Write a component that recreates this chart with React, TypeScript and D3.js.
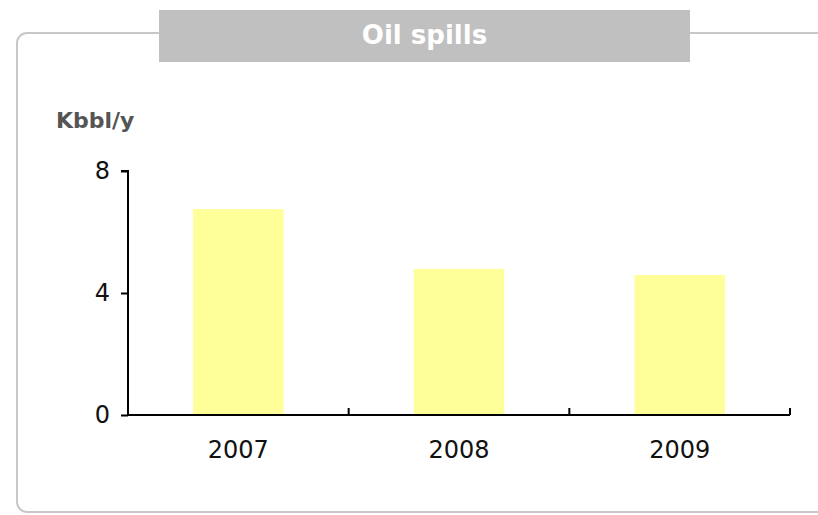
import React, { useRef, useEffect } from 'react'
import * as d3 from 'd3'

// chart data
const years = ['2007', '2008', '2009']
const spills = [6.75, 4.79, 4.59]
const yTicks = [0, 4, 8]

const full_width = 818
const full_height = 515
const margin = { top: 171, right: 28, bottom: 100, left: 128 }
const width = full_width - margin.left - margin.right
const height = full_height - margin.top - margin.bottom
const font = 'DejaVu Sans, Verdana, sans-serif'

const App = () => {
  const chartEl = useRef<SVGGElement>(null)
  const xAxisEl = useRef<SVGGElement>(null)
  const yAxisEl = useRef<SVGGElement>(null)

  useEffect(() => {
    const x = d3.scaleBand().domain(years).range([0, width]).paddingInner(0.59).paddingOuter(0.295)
    const y = d3.scaleLinear().domain([0, 8]).range([height, 0])

    const chart = d3.select(chartEl.current)
    chart.selectAll('.bar').remove()
    chart.selectAll('.bar')
      .data(years)
      .enter().append('rect')
      .attr('class', 'bar')
      .attr('x', d => x(d) as number)
      .attr('y', (d, i) => y(spills[i]))
      .attr('width', x.bandwidth())
      .attr('height', (d, i) => height - y(spills[i]))
      .attr('fill', '#ffff99')

    // x axis: category labels centered, ticks on category boundaries pointing up
    const xa = d3.select(xAxisEl.current)
    xa.selectAll('*').remove()
    xa.append('line').attr('x1', 0).attr('x2', width).attr('y1', 0).attr('y2', 0)
      .attr('stroke', '#000').attr('stroke-width', 2)
    const step = x.step()
    const bounds = d3.range(years.length + 1).map(i => i * step)
    xa.selectAll('.tick').data(bounds.slice(1)).enter().append('line')
      .attr('x1', d => d).attr('x2', d => d).attr('y1', 0).attr('y2', -7)
      .attr('stroke', '#000').attr('stroke-width', 2)
    xa.selectAll('.lbl').data(years).enter().append('text')
      .attr('x', d => (x(d) as number) + x.bandwidth() / 2)
      .attr('y', 43)
      .attr('text-anchor', 'middle')
      .attr('font-family', font)
      .attr('font-size', 24)
      .attr('fill', '#111')
      .text(d => d)

    const yAxis = d3.axisLeft(y).tickValues(yTicks).tickSize(7).tickPadding(11).tickFormat(d3.format('d'))
    const ya = d3.select(yAxisEl.current).call(yAxis)
    ya.select('.domain').attr('stroke-width', 2).attr('d', `M-7,0H0V${height}`)
    ya.selectAll('.tick line').attr('stroke-width', 2)
    ya.selectAll('.tick text')
      .attr('font-family', font)
      .attr('font-size', 24)
      .attr('fill', '#111')
  }, [])

  return (
    <svg width={full_width} height={full_height} style={{ position: 'absolute', left: 0, top: 0 }}>
      <rect x={17} y={33} width={840} height={479} rx={10} fill="none" stroke="#c8c8c8" strokeWidth={2} />
      <rect x={159} y={10} width={531} height={52} fill="#c0c0c0" />
      <text x={424.5} y={44} textAnchor="middle" fontFamily={font} fontWeight="bold" fontSize={26} fill="#fff">Oil spills</text>
      <text x={56} y={128} fontFamily={font} fontWeight="bold" fontSize={22} fill="#555">Kbbl/y</text>
      <g transform={`translate(${margin.left},${margin.top})`}>
        <g ref={chartEl} />
        <g ref={xAxisEl} transform={`translate(0,${height})`} />
        <g ref={yAxisEl} />
      </g>
    </svg>
  )
}

export default App
